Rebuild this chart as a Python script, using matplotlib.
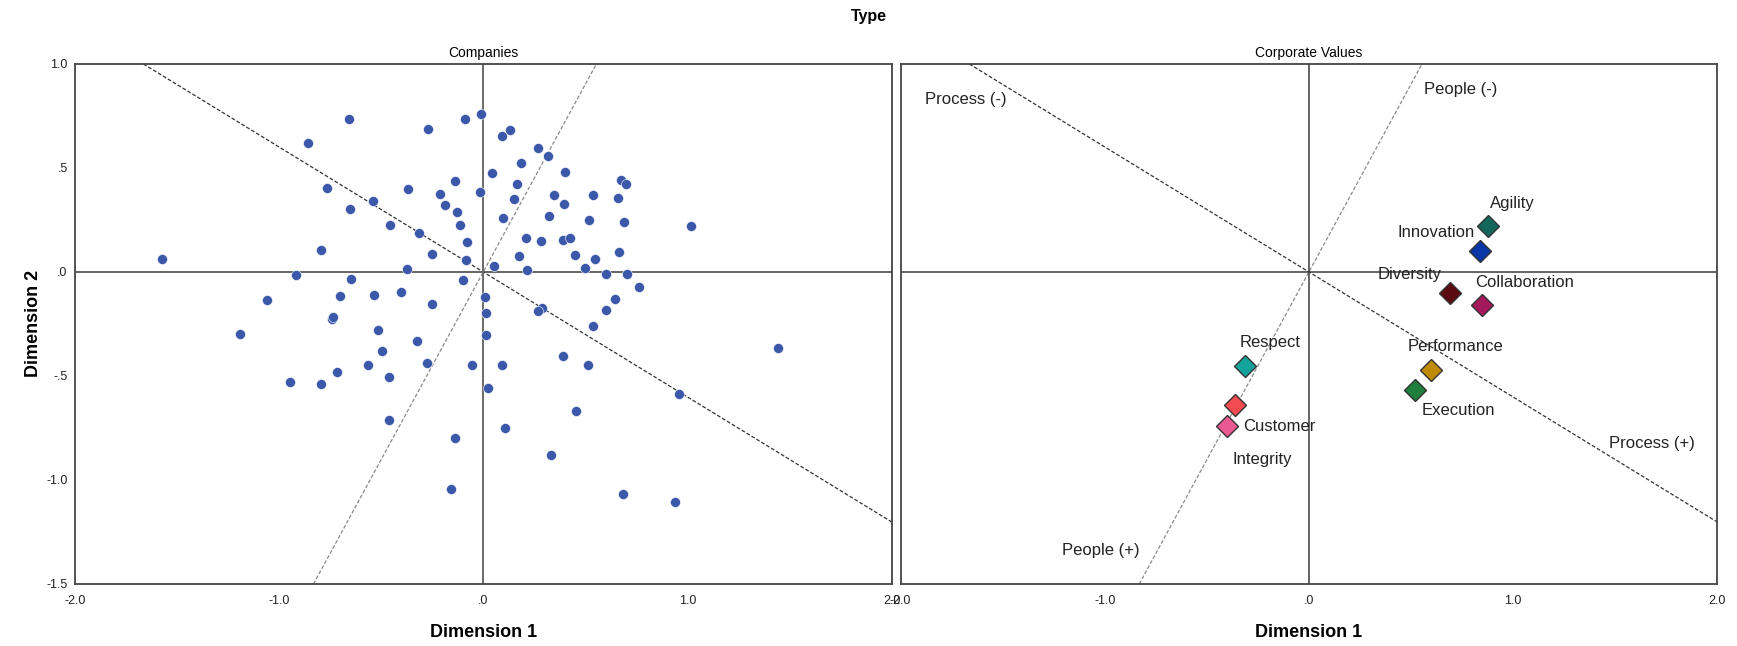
import matplotlib
matplotlib.use("Agg")
import matplotlib.pyplot as plt

plt.rcParams['font.family'] = ['Liberation Sans', 'DejaVu Sans']

# Object scores for the companies (dimension 1, dimension 2)
company_dim1 = [
    -1.574, -0.655, -0.858, -0.271, -0.089, -0.010, -0.765, -0.367, -0.138, -0.016,
    -0.210, -0.186, -0.128, -0.116, -0.540, -0.651, -0.455, -0.313, -0.079, -0.083,
    -0.253, -0.792, -0.375, -0.916, -0.648, -0.101, -1.058, -0.699, -0.537, -0.405,
    -0.251, -0.741, -0.736, -0.517, -1.190, -0.323, -0.496, -0.563, -0.277, -0.056,
    -0.718, -0.460, -0.948, -0.793, -0.459, -0.138, -0.158,
    0.094, 0.131, 0.268, 0.319, 0.183, 0.043, 0.402, 0.164, 0.673, 0.698,
    0.149, 0.347, 0.539, 0.662, 0.397, 0.097, 0.322, 0.518, 0.691, 1.018,
    0.211, 0.281, 0.391, 0.423, 0.177, 0.451, 0.665, 0.546, 0.051, 0.213,
    0.499, 0.603, 0.705, 0.761, 0.007, 0.647, 0.012, 0.290, 0.268, 0.602,
    0.538, 0.015, 1.444, 0.389, 0.094, 0.512, 0.023, 0.957, 0.456, 0.107,
    0.332, 0.683, 0.938,
]
company_dim2 = [
    0.062, 0.734, 0.619, 0.689, 0.734, 0.760, 0.404, 0.401, 0.439, 0.386,
    0.375, 0.322, 0.286, 0.228, 0.343, 0.303, 0.228, 0.189, 0.145, 0.058,
    0.084, 0.108, 0.015, -0.014, -0.033, -0.041, -0.136, -0.115, -0.110, -0.097,
    -0.155, -0.224, -0.217, -0.280, -0.299, -0.333, -0.379, -0.445, -0.438, -0.448,
    -0.479, -0.507, -0.528, -0.539, -0.714, -0.800, -1.041,
    0.654, 0.684, 0.598, 0.559, 0.526, 0.478, 0.480, 0.422, 0.441, 0.425,
    0.353, 0.372, 0.372, 0.356, 0.329, 0.258, 0.270, 0.249, 0.239, 0.222,
    0.161, 0.148, 0.156, 0.162, 0.077, 0.082, 0.095, 0.062, 0.028, 0.010,
    0.020, -0.011, -0.009, -0.070, -0.121, -0.128, -0.195, -0.171, -0.190, -0.181,
    -0.258, -0.302, -0.365, -0.402, -0.448, -0.448, -0.559, -0.589, -0.666, -0.749,
    -0.882, -1.068, -1.106,
]

# Category points for the corporate values
value_names = ["Agility", "Innovation", "Diversity", "Collaboration", "Respect",
               "Integrity", "Customer", "Performance", "Execution"]
value_dim1 = [0.878, 0.838, 0.689, 0.849, -0.312, -0.362, -0.403, 0.598, 0.519]
value_dim2 = [0.219, 0.100, -0.100, -0.159, -0.451, -0.640, -0.739, -0.470, -0.569]

# Interpretation axes through the origin
process_slope = -0.601
people_slope = 1.805
axis_names = ["Process (-)", "Process (+)", "People (-)", "People (+)"]

x_ticks = [-2.0, -1.0, 0.0, 1.0, 2.0]
x_tick_labels = ["-2.0", "-1.0", ".0", "1.0", "2.0"]
y_ticks = [1.0, 0.5, 0.0, -0.5, -1.0, -1.5]
y_tick_labels = ["1.0", ".5", ".0", "-.5", "-1.0", "-1.5"]

# Styling
value_colors = ["#12665c", "#0b36a8", "#5a0a10", "#a3195b", "#13a39b",
                "#f24c50", "#ea5a92", "#bf8a06", "#1d7f3b"]
label_offsets = {  # points, relative to the marker
    "Agility": (17.6, 16.3), "Innovation": (-31.7, 13.4), "Diversity": (-29.1, 13.2),
    "Collaboration": (30.2, 16.3), "Respect": (17.8, 16.8), "Integrity": (19.7, -39.4),
    "Customer": (37.9, -0.5), "Performance": (17.8, 16.8), "Execution": (31.3, -14.4),
}
axis_label_pos = {
    "Process (-)": (-1.68, 0.827), "Process (+)": (1.679, -0.826),
    "People (-)": (0.745, 0.879), "People (+)": (-1.02, -1.338),
}

fig = plt.figure(figsize=(17.37, 6.46), dpi=100)
ax1 = fig.add_axes([0.0430, 0.0960, 0.4704, 0.8050])
ax2 = fig.add_axes([0.5185, 0.0960, 0.4701, 0.8050])

for ax in (ax1, ax2):
    ax.set_xlim(-2.0, 2.0)
    ax.set_ylim(-1.5, 1.0)
    ax.set_xticks(x_ticks)
    ax.set_xticklabels(x_tick_labels)
    ax.set_yticks(y_ticks)
    ax.tick_params(axis='both', length=0, labelsize=9, colors='#222222')
    ax.tick_params(axis='x', pad=8)
    ax.tick_params(axis='y', pad=5)
    for s in ax.spines.values():
        s.set_color('#444444')
        s.set_linewidth(1.3)
    ax.axhline(0, color='#3a3a3a', lw=1.1, zorder=1)
    ax.axline((0, 0), slope=process_slope, color='#333333', lw=0.9,
              dashes=(3, 1.6), zorder=1)
    ax.axline((0, 0), slope=people_slope, color='#8a8a8a', lw=0.9,
              dashes=(3, 1.6), zorder=1)
    ax.set_xlabel("Dimension 1", fontsize=13, fontweight='bold', labelpad=12)

ax1.axvline(0, color='#6a6a6a', lw=1.4, zorder=1)
ax2.axvline(0, color='#3a3a3a', lw=1.1, zorder=1)

ax1.set_yticklabels(y_tick_labels)
ax2.set_yticklabels([])

ax1.scatter(company_dim1, company_dim2, s=52, color='#3c58a9',
            edgecolors='white', linewidths=0.4, zorder=3)

for name, x, y, c in zip(value_names, value_dim1, value_dim2, value_colors):
    ax2.plot([x], [y], marker='D', markersize=11, color=c,
             markeredgecolor='#333333', markeredgewidth=1.0, zorder=3)
    ax2.annotate(name, xy=(x, y), xytext=label_offsets[name],
                 textcoords='offset points', ha='center', va='center',
                 fontsize=12, color='#222222', zorder=4)

for name in axis_names:
    px, py = axis_label_pos[name]
    ax2.text(px, py, name, ha='center', va='center', fontsize=12, color='#222222')

ax1.set_title("Companies", fontsize=10, pad=5)
ax2.set_title("Corporate Values", fontsize=10, pad=5)
fig.text(0.5, 1 - 17 / 646, "Type", ha='center', va='center',
         fontsize=11.5, fontweight='bold')
fig.text(33 / 1737, 0.5, "Dimension 2", rotation=90, ha='center', va='center',
         fontsize=13, fontweight='bold')

fig.savefig("out.png", dpi=100, facecolor='white')
